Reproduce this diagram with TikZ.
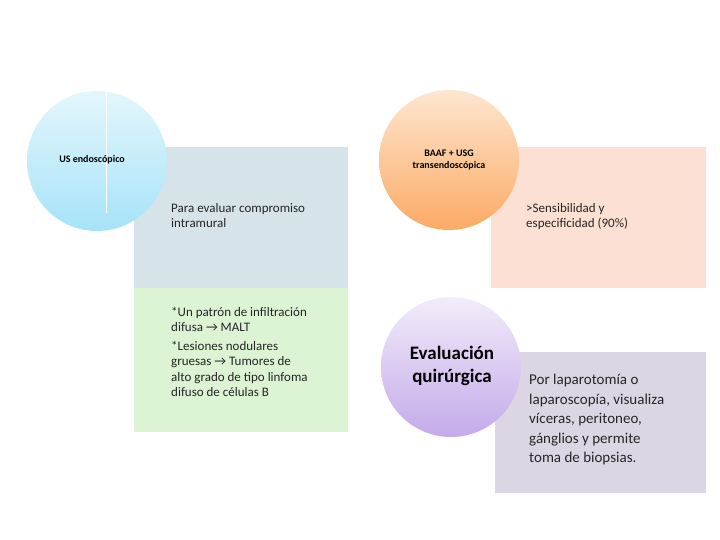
\documentclass[tikz,border=0pt]{standalone}
\usepackage{fontspec}
\setmainfont{Carlito}
\begin{document}
\begin{tikzpicture}[x=1pt,y=-1pt,
 rbox/.style={anchor=north west,inner sep=0pt},
 btxt/.style={anchor=north west,align=left,font=\fontsize{13}{15.5}\selectfont,text=black!85,inner sep=0pt}]
\useasboundingbox (0,0) rectangle (720,540);
\definecolor{rblue}{HTML}{D6E4EA}\definecolor{rgreen}{HTML}{DCF3D4}
\definecolor{rpink}{HTML}{FBE0D3}\definecolor{rpurp}{HTML}{DCD6E4}
\fill[rblue] (134,147) rectangle (348,288);
\fill[rgreen] (134,288) rectangle (348,432);
\fill[rpink] (491,147) rectangle (706,288);
\fill[rpurp] (495,352) rectangle (706,493);
\shade[top color={rgb,255:red,228;green,246;blue,252},bottom color={rgb,255:red,166;green,227;blue,248}] (97,161) circle (70);
\draw[white,line width=1pt] (106,90) -- (106,213);
\shade[top color={rgb,255:red,253;green,230;blue,208},bottom color={rgb,255:red,252;green,170;blue,100}] (449,160) circle (70);
\shade[top color={rgb,255:red,242;green,236;blue,250},bottom color={rgb,255:red,196;green,170;blue,234}] (451,367) circle (70);
\node[font=\bfseries\fontsize{10}{12}\selectfont] (us) at (92,160) {US endoscópico};
\node[font=\bfseries\fontsize{10}{12}\selectfont,align=center] (baaf) at (449,160) {BAAF + USG\\transendoscópica};
\node[font=\bfseries\fontsize{19}{23}\selectfont,align=center] (ev) at (452,366) {Evaluación\\quirúrgica};
\node[btxt] (t1) at (171,203) {Para evaluar compromiso\\intramural};
\node[btxt] (t2) at (171,307) {*Un patrón de infiltración\\difusa → MALT\\[3pt]*Lesiones nodulares\\gruesas → Tumores de\\alto grado de tipo linfoma\\difuso de células B};
\node[btxt] (t3) at (526,203) {>Sensibilidad y\\especificidad (90\%)};
\node[btxt,font=\fontsize{15}{19.5}\selectfont] (t4) at (529,374) {Por laparotomía o\\laparoscopía, visualiza\\víceras, peritoneo,\\gánglios y permite\\toma de biopsias.};
\end{tikzpicture}
\end{document}
